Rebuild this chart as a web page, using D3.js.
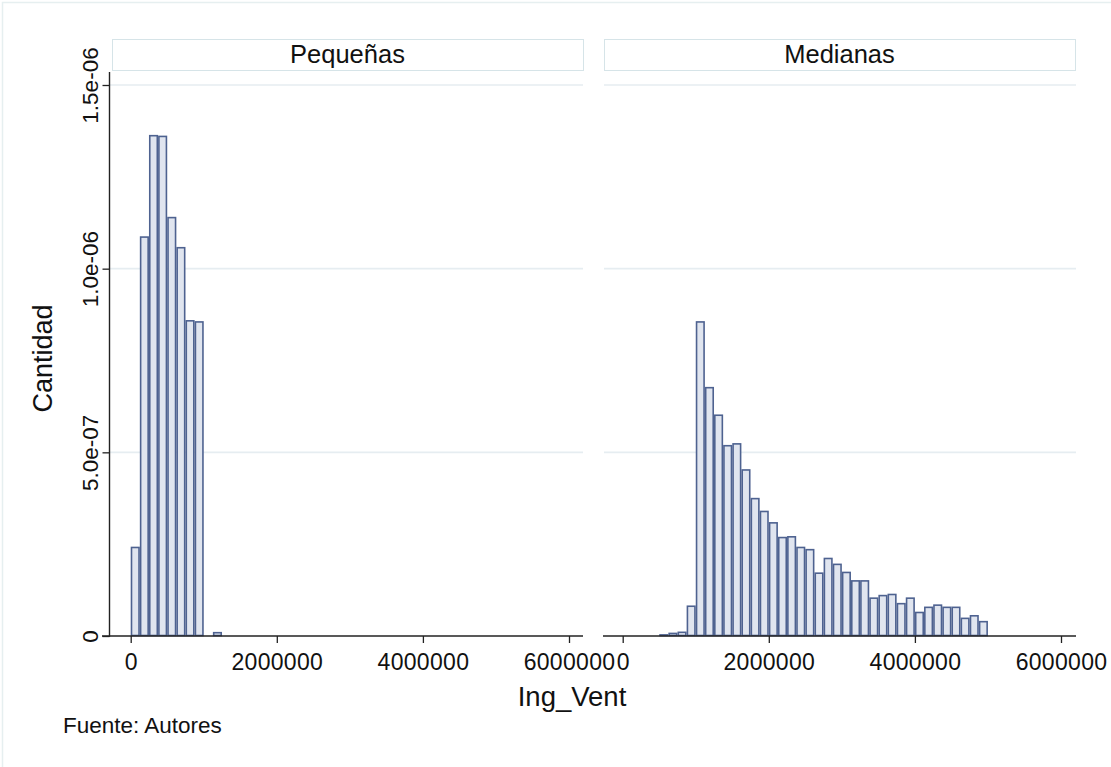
<!DOCTYPE html>
<html>
<head>
<meta charset="utf-8">
<script src="https://cdn.jsdelivr.net/npm/d3@7"></script>
<style>
  html, body { margin: 0; padding: 0; background: #fff; }
  svg { display: block; font-family: "Liberation Sans", Arial, Helvetica, sans-serif; }
</style>
</head>
<body>
<svg id="chart" width="1111" height="767"></svg>
<script>
// ---------------- data ----------------
const panels = ["Pequeñas", "Medianas"];
const binWidth = 125000;

const pequenasBinStart = [0, 125000, 250000, 375000, 500000, 625000, 750000, 875000, 1125000];
const pequenasDensity = [2.41e-7, 1.086e-6, 1.362e-6, 1.360e-6, 1.139e-6, 1.057e-6, 8.58e-7, 8.55e-7, 9e-9];

const medianasBinStart = [500000, 625000, 750000, 875000, 1000000, 1125000, 1250000, 1375000,
  1500000, 1625000, 1750000, 1875000, 2000000, 2125000, 2250000, 2375000, 2500000, 2625000,
  2750000, 2875000, 3000000, 3125000, 3250000, 3375000, 3500000, 3625000, 3750000, 3875000,
  4000000, 4125000, 4250000, 4375000, 4500000, 4625000, 4750000, 4875000];
const medianasDensity = [0.003e-6, 0.007e-6, 0.010e-6, 0.081e-6, 0.855e-6, 0.676e-6, 0.601e-6, 0.518e-6,
  0.523e-6, 0.452e-6, 0.374e-6, 0.339e-6, 0.308e-6, 0.268e-6, 0.270e-6, 0.241e-6, 0.235e-6, 0.171e-6,
  0.211e-6, 0.195e-6, 0.173e-6, 0.150e-6, 0.150e-6, 0.103e-6, 0.110e-6, 0.113e-6, 0.088e-6, 0.103e-6,
  0.064e-6, 0.078e-6, 0.084e-6, 0.078e-6, 0.078e-6, 0.048e-6, 0.055e-6, 0.039e-6];

const xTicks = [0, 2000000, 4000000, 6000000];
const xTickLabels = ["0", "2000000", "4000000", "6000000"];
const yTicks = [0, 5e-7, 1e-6, 1.5e-6];
const yTickLabels = ["0", "5.0e-07", "1.0e-06", "1.5e-06"];
const yGridTicks = [5e-7, 1e-6, 1.5e-6];

const yTitle = "Cantidad";
const xTitle = "Ing_Vent";
const note = "Fuente: Autores";

// ---------------- layout ----------------
const svg = d3.select("#chart");
const barFill = "#e0e5ef";
const barStroke = "#4e6290";
const gridColor = "#e6edf1";
const stripStroke = "#d6e4e8";
const fontFam = "'Liberation Sans', Arial, sans-serif";

// outer graph-region border
svg.append("rect").attr("x", 2.5).attr("y", 2.5).attr("width", 1130).attr("height", 790)
  .attr("fill", "#fff").attr("stroke", "#e6eff0").attr("stroke-width", 1.5);

const y = d3.scaleLinear().domain([0, 1.5e-6]).range([636, 85]);

const panelDefs = [
  { name: panels[0], starts: pequenasBinStart, vals: pequenasDensity,
    range: [130.7, 569], axisX: [102, 583], strip: [112, 583], grid: [110, 583] },
  { name: panels[1], starts: medianasBinStart, vals: medianasDensity,
    range: [622.7, 1061], axisX: [603, 1076], strip: [604, 1075], grid: [604, 1076] }
];

panelDefs.forEach(p => {
  const x = d3.scaleLinear().domain([0, 6000000]).range(p.range);
  const g = svg.append("g");

  // gridlines
  g.selectAll("line.grid").data(yGridTicks).enter().append("line")
    .attr("x1", p.grid[0]).attr("x2", p.grid[1])
    .attr("y1", d => y(d)).attr("y2", d => y(d))
    .attr("stroke", gridColor).attr("stroke-width", 1.6);

  // strip
  g.append("rect").attr("x", p.strip[0] + 0.5).attr("y", 39.5)
    .attr("width", p.strip[1] - p.strip[0]).attr("height", 31)
    .attr("fill", "#fff").attr("stroke", stripStroke).attr("stroke-width", 1);
  g.append("text").attr("x", (p.strip[0] + p.strip[1]) / 2).attr("y", 62.5)
    .attr("text-anchor", "middle").attr("font-size", 25.5).attr("fill", "#111")
    .text(p.name);

  // bars
  const data = p.starts.map((s, i) => ({ x0: s, x1: s + binWidth, v: p.vals[i] }));
  g.selectAll("rect.bar").data(data).enter().append("rect")
    .attr("x", d => x(d.x0) + 0.8)
    .attr("width", d => Math.max(0, x(d.x1) - x(d.x0) - 1.6))
    .attr("y", d => y(d.v))
    .attr("height", d => Math.max(0.5, y(0) - y(d.v) - 0.5))
    .attr("fill", barFill).attr("stroke", barStroke).attr("stroke-width", 1.6);

  // x axis
  const xAxis = d3.axisBottom(x).tickValues(xTicks)
    .tickFormat((d, i) => xTickLabels[i]).tickSize(7).tickPadding(11).tickSizeOuter(0);
  const ax = g.append("g").attr("transform", `translate(0,${y(0)})`).call(xAxis);
  ax.select(".domain").remove();
  ax.selectAll(".tick line").attr("stroke", "#222").attr("stroke-width", 1.3);
  ax.selectAll(".tick text").attr("font-size", 23).attr("letter-spacing", "0.3px")
    .attr("fill", "#111").attr("font-family", fontFam);
  g.append("line").attr("x1", p.axisX[0]).attr("x2", p.axisX[1])
    .attr("y1", y(0)).attr("y2", y(0)).attr("stroke", "#222").attr("stroke-width", 1.4);
});

// y axis (left panel only)
const yAxis = d3.axisLeft(y).tickValues(yTicks).tickFormat((d, i) => yTickLabels[i])
  .tickSize(7).tickSizeOuter(0);
const ay = svg.append("g").attr("transform", "translate(109.5,0)").call(yAxis);
ay.select(".domain").remove();
ay.selectAll(".tick line").attr("stroke", "#222").attr("stroke-width", 1.3);
ay.selectAll(".tick text").remove();
ay.selectAll(".tick").append("text")
  .attr("transform", "translate(-12,0) rotate(-90)")
  .attr("text-anchor", "middle").attr("font-size", 22.5).attr("fill", "#111")
  .attr("font-family", fontFam)
  .text((d, i) => yTickLabels[i]);
svg.append("line").attr("x1", 109.5).attr("x2", 109.5).attr("y1", 72).attr("y2", 636.7)
  .attr("stroke", "#222").attr("stroke-width", 1.4);

// titles
svg.append("text").attr("transform", "translate(52,358.5) rotate(-90)")
  .attr("text-anchor", "middle").attr("font-size", 27).attr("fill", "#111").text(yTitle);
svg.append("text").attr("x", 572).attr("y", 706)
  .attr("text-anchor", "middle").attr("font-size", 27.5).attr("fill", "#111").text(xTitle);
svg.append("text").attr("x", 63).attr("y", 733)
  .attr("font-size", 22.5).attr("fill", "#111").text(note);
</script>
</body>
</html>
